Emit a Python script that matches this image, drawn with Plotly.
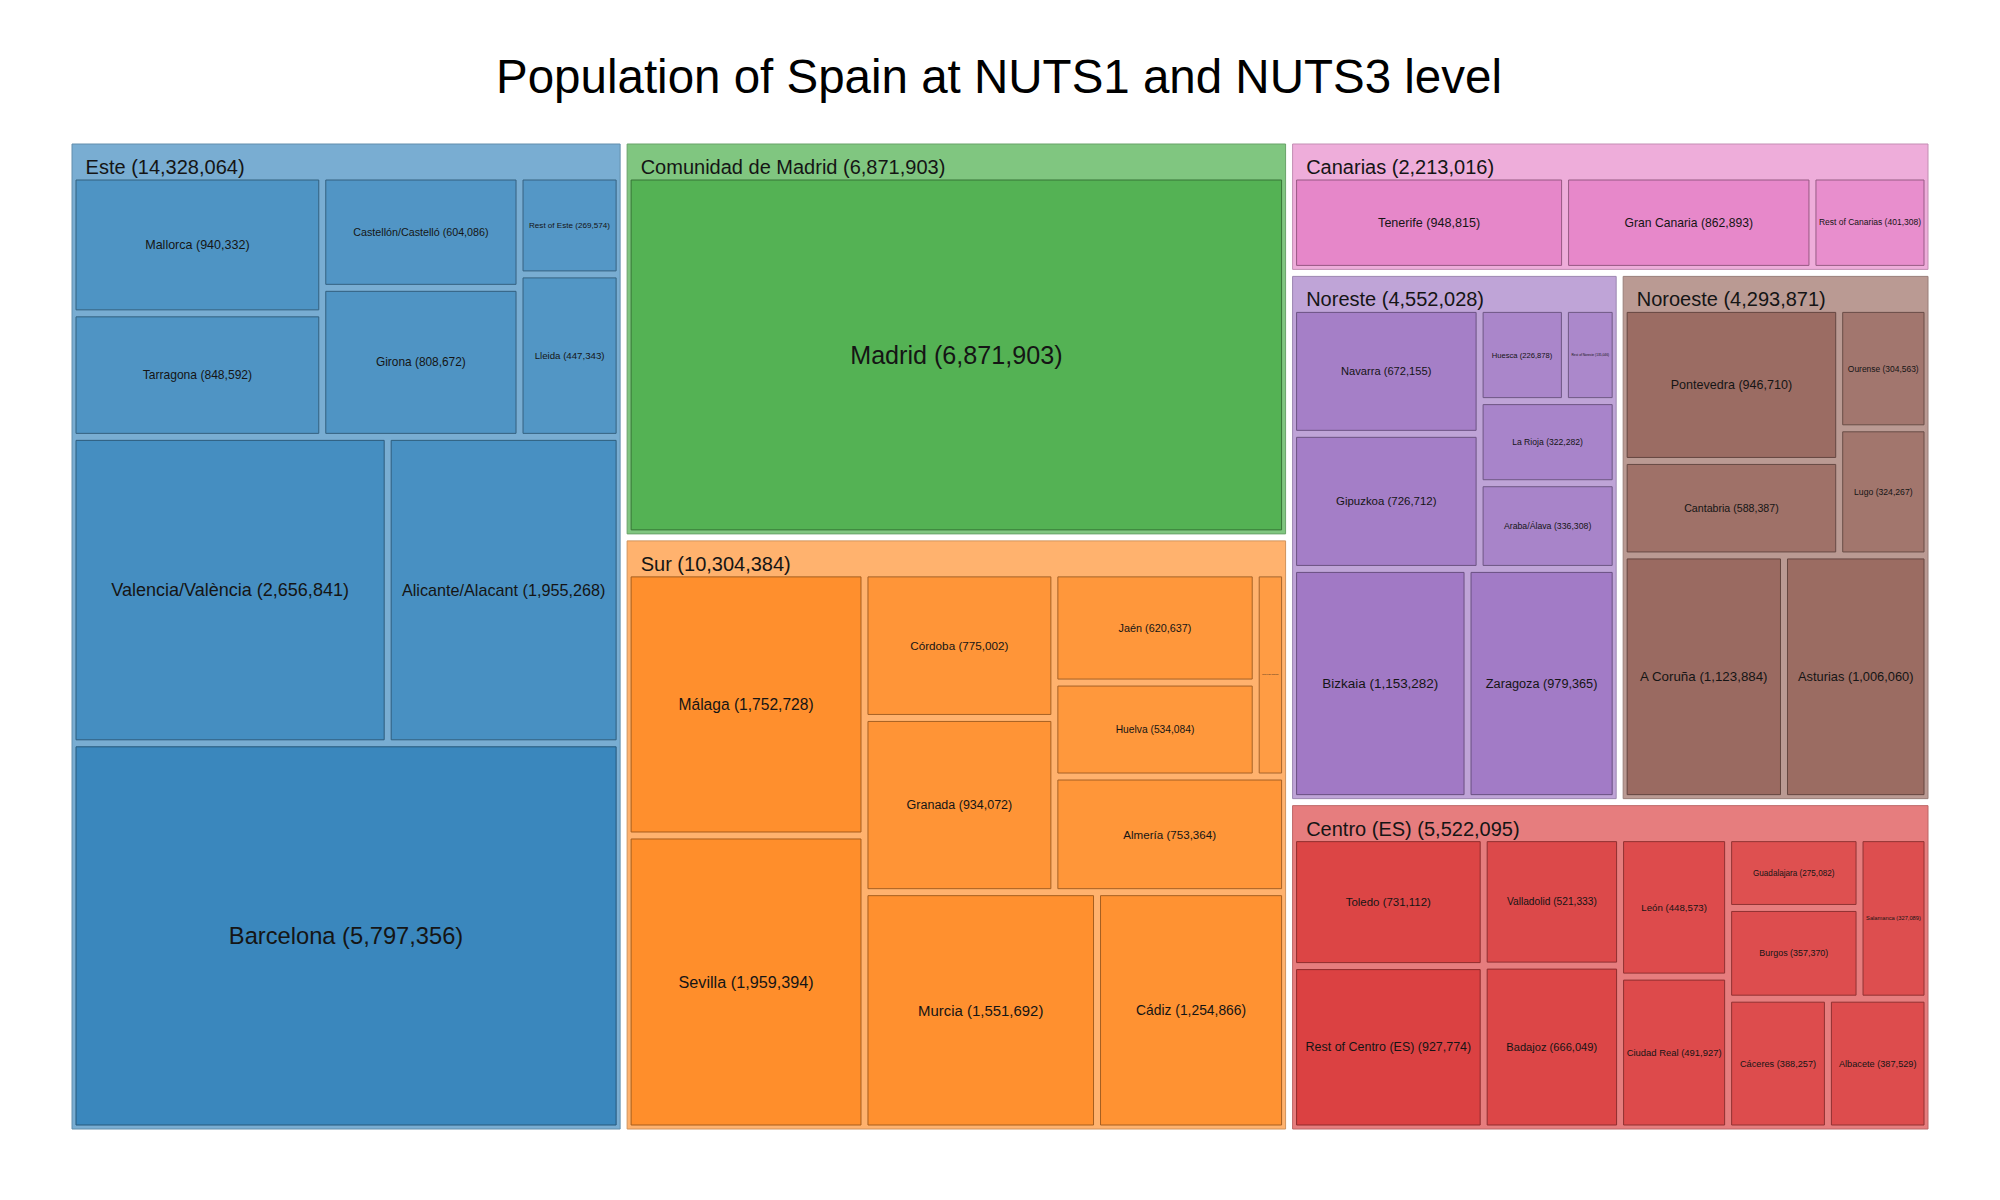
import plotly.graph_objects as go

# ---------------- data ----------------
regions = ["Este", "Sur", "Comunidad de Madrid", "Centro (ES)", "Noreste", "Noroeste", "Canarias"]
region_colors = ["#1f77b4", "#ff7f0e", "#2ca02c", "#d62728", "#9467bd", "#8c564b", "#e377c2"]

este_names = ["Barcelona", "Valencia/València", "Alicante/Alacant", "Tarragona", "Mallorca",
              "Girona", "Castellón/Castelló", "Lleida", "Rest of Este"]
este_values = [5797356, 2656841, 1955268, 848592, 940332, 808672, 604086, 447343, 269574]

sur_names = ["Sevilla", "Málaga", "Murcia", "Cádiz", "Granada", "Córdoba", "Almería", "Huelva",
             "Jaén", "Rest of Sur"]
sur_values = [1959394, 1752728, 1551692, 1254866, 934072, 775002, 753364, 534084, 620637, 168545]

madrid_names = ["Madrid"]
madrid_values = [6871903]

centro_names = ["Rest of Centro (ES)", "Toledo", "Badajoz", "Valladolid", "Ciudad Real", "León",
                "Cáceres", "Albacete", "Burgos", "Guadalajara", "Salamanca"]
centro_values = [927774, 731112, 666049, 521333, 491927, 448573, 388257, 387529, 357370,
                 275082, 327089]

noreste_names = ["Bizkaia", "Zaragoza", "Gipuzkoa", "Navarra", "Araba/Álava", "La Rioja",
                 "Huesca", "Rest of Noreste"]
noreste_values = [1153282, 979365, 726712, 672155, 336308, 322282, 226878, 135046]

noroeste_names = ["A Coruña", "Asturias", "Cantabria", "Pontevedra", "Lugo", "Ourense"]
noroeste_values = [1123884, 1006060, 588387, 946710, 324267, 304563]

canarias_names = ["Tenerife", "Gran Canaria", "Rest of Canarias"]
canarias_values = [948815, 862893, 401308]

children_names = [este_names, sur_names, madrid_names, centro_names,
                  noreste_names, noroeste_names, canarias_names]
children_values = [este_values, sur_values, madrid_values, centro_values,
                   noreste_values, noroeste_values, canarias_values]

TITLE = "Population of Spain at NUTS1 and NUTS3 level"
FONT = "Liberation Sans Narrow, Arial Narrow, Liberation Sans, Arial, sans-serif"


# ---------------- styling helpers ----------------
def hex_rgb(h):
    h = h.lstrip("#")
    return tuple(int(h[i:i + 2], 16) for i in (0, 2, 4))


def tint(h, a):
    r, g, b = hex_rgb(h)
    return tuple(255 - a * (255 - c) for c in (r, g, b))


def rgb(t):
    return "rgb(%d,%d,%d)" % tuple(round(c) for c in t)


def darker(t, f):
    return tuple(c * f for c in t)


CLEAR = "rgba(0,0,0,0)"
TXT = "#151515"
NB = "\u00a0"

ids, parents, values = [], [], []
labels1, labels2 = [], []
fill, line_col, size1 = [], [], []

for reg, base, names, vals in zip(regions, region_colors, children_names, children_values):
    total = sum(vals)
    ids.append(reg); parents.append(""); values.append(total)
    labels1.append(NB)
    labels2.append(NB + "\u2009%s (%s)" % (reg, format(total, ",")))
    hc = tint(base, 0.6)
    fill.append(rgb(hc)); line_col.append(rgb(darker(hc, 0.82)))
    size1.append(10)

for reg, base, names, vals in zip(regions, region_colors, children_names, children_values):
    vmax = max(vals)
    for n, v in zip(names, vals):
        ids.append(reg + "|" + n); parents.append(reg); values.append(v)
        labels1.append(n); labels2.append(NB)
        a = 0.73 + 0.15 * (v / vmax) ** 0.5 * (0.55 if len(vals) == 1 else 1.0)
        lc = tint(base, a)
        fill.append(rgb(lc)); line_col.append(rgb(darker(lc, 0.65)))
        size1.append(23.7 * (v / 5.8e6) ** 0.35)

common = dict(ids=ids, parents=parents, values=values,
              branchvalues="total", sort=False,
              tiling=dict(packing="squarify", flip="y", pad=7),
              pathbar=dict(visible=False))
PAD = dict(t=36, l=4, r=4, b=4)

M_TOP, M_BOT = 100, 66
H_PLOT = 1200 - M_TOP - M_BOT
SHIFT = 9  # header-label layer sits this many px lower than the boxes

# coloured boxes + leaf labels
tr1 = go.Treemap(**common, labels=labels1,
                 domain=dict(x=[0, 1], y=[SHIFT / H_PLOT, 1]),
                 marker=dict(colors=fill, line=dict(color=line_col, width=1), pad=PAD),
                 textposition="middle center",
                 texttemplate="%{label} (%{value:,})",
                 textfont=dict(family=FONT, size=size1, color=TXT),
                 hovertemplate="%{id}: %{value:,}<extra></extra>")

# transparent layer that carries the left-aligned header labels
tr2 = go.Treemap(**common, labels=labels2,
                 domain=dict(x=[0, 1], y=[0, 1 - SHIFT / H_PLOT]),
                 marker=dict(colors=[CLEAR] * len(ids),
                             line=dict(color=CLEAR, width=0), pad=PAD),
                 textposition="top left",
                 texttemplate=" ",
                 textfont=dict(family=FONT, size=20, color=TXT),
                 hoverinfo="skip")

fig = go.Figure([tr1, tr2])
fig.update_layout(
    width=2000, height=1200,
    paper_bgcolor="white",
    margin=dict(l=60, r=76, t=M_TOP, b=M_BOT),
    font=dict(family=FONT, color=TXT),
    title=dict(text=TITLE, x=0.4955, xanchor="center", y=1 - 68 / 1200, yanchor="middle",
               yref="container", font=dict(family=FONT, size=47.5, color="black")),
)
fig.write_html("out.html")
